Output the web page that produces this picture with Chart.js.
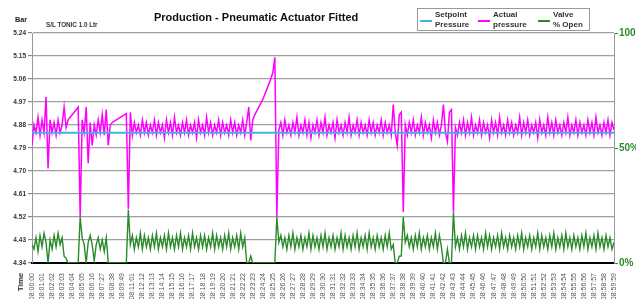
<!DOCTYPE html>
<html>
<head>
<meta charset="utf-8">
<script src="https://cdn.jsdelivr.net/npm/chart.js@4/dist/chart.umd.min.js"></script>
<style>
  html, body { margin: 0; padding: 0; background: #fff; }
  #wrap { position: relative; width: 636px; height: 299px; overflow: hidden; font-family: "Liberation Sans", Arial, sans-serif; }
  #c { position: absolute; left: 0; top: 0; }
  .t { position: absolute; white-space: nowrap; font-weight: bold; line-height: 1; }
  #title { left: 154px; top: 12px; font-size: 11px; color: #111; }
  #sub { left: 46px; top: 22px; font-size: 6.3px; color: #333; }
  #bar { left: 15px; top: 16px; font-size: 7.3px; color: #222; }
  #time { left: 21px; top: 282px; font-size: 8px; color: #222; transform: translate(-50%, -50%) rotate(-90deg); }
  #legend { position: absolute; left: 417px; top: 8px; width: 171px; height: 21px; border: 1px solid #999; background: #fff; }
  .li { position: absolute; top: 0; height: 21px; }
  .ls { position: absolute; top: 11px; width: 12px; height: 2px; }
  .lt { position: absolute; left: 15px; top: 1px; font-size: 8px; font-weight: bold; line-height: 10px; color: #333; white-space: nowrap; }
</style>
</head>
<body>
<div id="wrap">
  <canvas id="c" width="636" height="299"></canvas>
  <div class="t" id="title">Production - Pneumatic Actuator Fitted</div>
  <div class="t" id="sub">S/L TONIC 1.0 Ltr</div>
  <div class="t" id="bar">Bar</div>
  <div class="t" id="time">Time</div>
  <div id="legend">
    <div class="li" style="left:2px"><div class="ls" style="background:#3cb4e6"></div><div class="lt">Setpoint<br>Pressure</div></div>
    <div class="li" style="left:60px"><div class="ls" style="background:#ff00ff"></div><div class="lt">Actual<br>pressure</div></div>
    <div class="li" style="left:120px"><div class="ls" style="background:#2b8a2b"></div><div class="lt">Valve<br>% Open</div></div>
  </div>
</div>
<script>
// ---- tick labels (category axis) ----
const timeLabels = [
  "08:00:00","08:01:01","08:02:02","08:03:03","08:04:04","08:05:05","08:06:16","08:07:27","08:08:38","08:09:49",
  "08:11:01","08:12:12","08:13:13","08:14:14","08:15:15","08:16:16","08:17:17","08:18:18","08:19:19","08:20:20",
  "08:21:21","08:22:22","08:23:23","08:24:24","08:25:25","08:26:26","08:27:27","08:28:28","08:29:29","08:30:30",
  "08:31:31","08:32:32","08:33:33","08:34:34","08:35:35","08:36:36","08:37:37","08:38:38","08:39:39","08:40:40",
  "08:41:41","08:42:42","08:43:43","08:44:44","08:45:45","08:46:46","08:47:47","08:48:48","08:49:49","08:50:50",
  "08:51:51","08:52:52","08:53:53","08:54:54","08:55:55","08:56:56","08:57:57","08:58:58","08:59:59"
];
const samplesPerLabel = 5;

const pressureTicks = [4.34, 4.43, 4.52, 4.61, 4.70, 4.79, 4.88, 4.97, 5.06, 5.15, 5.24];
const valveTicks = [0, 50, 100];

// ---- series (one value per sample) ----
const setpointPressure = [4.85, 4.85]; // constant set point, first and last sample

const actualPressure = [
  4.80,4.88,4.85,4.91,4.84,4.90,4.85,4.99,4.71,4.90,
  4.85,4.89,4.84,4.90,4.85,4.88,4.95,4.87,4.90,4.91,
  4.92,4.93,4.94,4.95,4.52,4.90,4.85,4.95,4.73,4.89,
  4.80,4.88,4.84,4.90,4.85,4.92,4.84,4.94,4.80,4.88,
  4.89,4.895,4.90,4.905,4.91,4.915,4.92,4.925,4.55,
  4.93,
  4.84,4.89,4.85,4.88,4.84,4.90,4.85,4.89,4.84,4.88,
  4.85,4.90,4.84,4.89,4.85,4.88,4.83,4.90,4.85,4.89,
  4.84,4.91,4.85,4.88,4.84,4.89,4.85,4.90,4.84,4.88,
  4.85,4.89,4.83,4.90,4.85,4.88,4.84,4.91,4.85,4.89,
  4.84,4.88,4.85,4.90,4.84,4.89,4.85,4.88,4.84,4.90,
  4.85,4.89,4.84,4.88,4.85,4.90,4.84,4.89,
  4.95,4.82,4.90,4.92,4.935,4.95,4.965,4.98,5.00,5.02,5.04,5.06,5.085,5.145,4.52,
  4.86,4.89,4.84,4.90,4.85,4.88,4.84,4.89,4.85,4.91,
  4.84,4.88,4.85,4.90,4.84,4.89,4.83,4.88,4.85,4.90,
  4.84,4.89,4.85,4.91,4.84,4.88,4.85,4.89,4.83,4.90,
  4.85,4.88,4.84,4.89,4.85,4.91,4.84,4.88,4.85,4.90,
  4.84,4.89,4.85,4.88,4.84,4.90,4.85,4.89,4.84,4.88,
  4.85,4.90,4.84,4.89,4.85,4.88,4.84,
  4.96,
  4.85,4.80,4.92,4.93,4.54,
  4.88,4.84,4.89,4.85,4.90,4.84,4.88,4.85,4.91,4.84,4.89,4.85,4.88,4.83,4.90,4.85,4.89,4.84,4.88,
  4.96,4.85,4.815,4.93,4.94,4.54,
  4.87,4.84,4.89,4.85,4.90,4.84,4.89,4.85,4.91,4.84,
  4.88,4.85,4.90,4.84,4.89,4.85,4.88,4.83,4.90,4.85,
  4.89,4.84,4.91,4.85,4.88,4.84,4.90,4.85,4.89,4.84,
  4.88,4.85,4.91,4.84,4.89,4.85,4.90,4.84,4.88,4.85,
  4.89,4.83,4.90,4.85,4.88,4.84,4.91,4.85,4.89,4.84,
  4.90,4.85,4.88,4.84,4.89,4.85,4.91,4.84,4.88,4.85,
  4.90,4.84,4.89,4.85,4.88,4.84,4.90,4.85,4.89,4.84,
  4.91,4.85,4.88,4.84,4.89,4.85,4.90,4.84,4.89,4.86
];

const valveOpen = [
  8,6,11,5,12,7,13,9,0,10,
  6,12,7,13,8,11,3,2,0,0,
  0,0,0,0,20,11,8,0,9,12,
  8,1,8,11,6,10,5,11,0,0,
  0,0,0,0,0,0,0,0,23,
  8,12,6,11,7,13,6,12,7,11,
  6,12,7,13,6,11,7,12,6,13,
  7,11,6,12,7,13,6,11,7,12,
  6,13,7,11,6,12,7,12,6,11,
  7,13,6,12,7,11,6,12,7,13,
  6,11,7,12,6,13,7,11,
  0,0,3,0,0,0,0,0,0,0,0,0,0,0,0,
  20,
  9,12,7,11,6,12,7,13,6,11,
  7,12,6,11,7,13,6,12,7,11,
  6,12,7,13,6,11,7,12,6,11,
  7,13,6,12,7,11,6,12,7,13,
  6,11,7,12,6,13,7,11,6,12,
  7,11,6,12,7,13,6,
  8,0,0,3,3,20,
  9,12,7,11,6,12,7,13,6,11,7,12,6,11,7,13,6,12,7,
  0,0,6,0,0,22,
  7,11,6,12,7,13,6,11,7,12,
  6,12,7,11,6,13,7,12,6,11,
  7,12,6,13,7,11,6,12,7,11,
  6,12,7,13,6,11,7,12,6,11,
  7,13,6,12,7,11,6,12,7,13,
  6,11,7,12,6,13,7,11,6,12,
  7,11,6,12,7,13,6,11,7,12,
  6,13,7,11,6,12,7,11,6,9
];

const lastSample = (timeLabels.length - 1) * samplesPerLabel;
const toXY = arr => arr.map((v, i) => ({ x: i, y: v }));

const FONT = "'Liberation Sans', Arial, sans-serif";
const GRID = '#a0a0a0';

new Chart(document.getElementById('c'), {
  type: 'line',
  data: {
    datasets: [
      { label: 'Setpoint Pressure', data: [{ x: 0, y: setpointPressure[0] }, { x: lastSample, y: setpointPressure[1] }],
        borderColor: '#3cb4e6', borderWidth: 2, pointRadius: 0, yAxisID: 'y', order: 0 },
      { label: 'Actual pressure', data: toXY(actualPressure),
        borderColor: '#ff00ff', borderWidth: 1.5, pointRadius: 0, yAxisID: 'y', order: 1 },
      { label: 'Valve % Open', data: toXY(valveOpen),
        borderColor: '#2b8a2b', borderWidth: 1.4, pointRadius: 0, yAxisID: 'y2', order: 2 }
    ]
  },
  options: {
    responsive: false,
    animation: false,
    events: [],
    layout: { padding: { top: 33, left: 0, right: 0, bottom: 0 } },
    plugins: { legend: { display: false }, title: { display: false }, tooltip: { enabled: false } },
    elements: { line: { tension: 0 } },
    scales: {
      x: {
        type: 'linear', min: 0, max: lastSample,
        afterBuildTicks: s => { s.ticks = timeLabels.map((t, k) => ({ value: k * samplesPerLabel })); },
        afterFit: s => { s.height = 36; },
        grid: { display: false },
        border: { display: true, color: '#000', width: 2 },
        ticks: {
          autoSkip: false, minRotation: 90, maxRotation: 90, padding: 2,
          color: '#555', font: { family: FONT, size: 7 },
          callback: (v, i) => timeLabels[i]
        }
      },
      y: {
        position: 'left', min: 4.34, max: 5.24,
        afterBuildTicks: s => { s.ticks = pressureTicks.map(v => ({ value: v })); },
        afterFit: s => { s.width = 32; },
        grid: { color: GRID, lineWidth: 1.2, tickLength: 4, tickColor: '#888' },
        border: { display: true, color: '#999', width: 1 },
        ticks: { padding: 2, color: '#333', font: { family: FONT, size: 6.5, weight: 'bold' },
                 callback: v => Number(v).toFixed(2) }
      },
      y2: {
        position: 'right', min: 0, max: 100,
        afterBuildTicks: s => { s.ticks = valveTicks.map(v => ({ value: v })); },
        afterFit: s => { s.width = 22; },
        grid: { drawOnChartArea: false, tickLength: 4, color: '#2b8a2b' },
        border: { display: true, color: '#999', width: 1 },
        ticks: { padding: 1, color: '#2e8b2e', font: { family: FONT, size: 10, weight: 'bold' },
                 callback: v => v + '%' }
      }
    }
  }
});
</script>
</body>
</html>
